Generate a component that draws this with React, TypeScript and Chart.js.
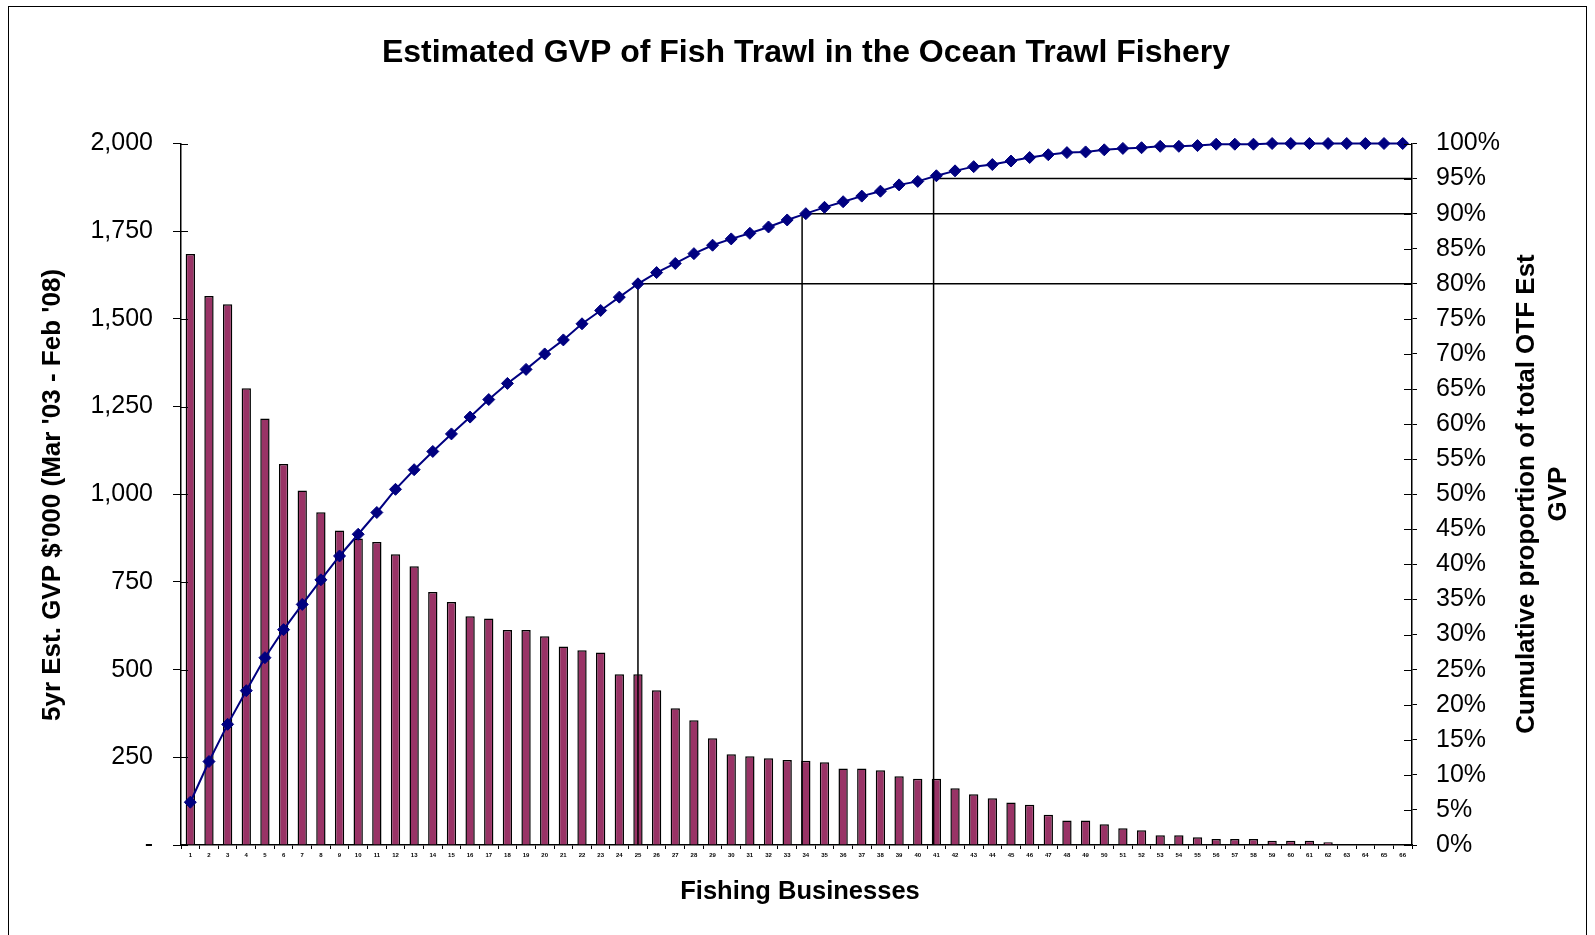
import React, { useEffect, useRef } from 'react';
import { Chart, registerables } from 'chart.js';

Chart.register(...registerables);

const FONT = "'Liberation Sans', Arial, Helvetica, sans-serif";

const chartTitle = 'Estimated GVP of Fish Trawl in the Ocean Trawl Fishery';
const xTitle = 'Fishing Businesses';
const leftTitle = "5yr Est. GVP $'000 (Mar '03 - Feb '08)";
const rightTitle = ['Cumulative proportion of total OTF Est', 'GVP'];

const businesses = [
  '1', '2', '3', '4', '5', '6', '7', '8', '9', '10',
  '11', '12', '13', '14', '15', '16', '17', '18', '19', '20',
  '21', '22', '23', '24', '25', '26', '27', '28', '29', '30',
  '31', '32', '33', '34', '35', '36', '37', '38', '39', '40',
  '41', '42', '43', '44', '45', '46', '47', '48', '49', '50',
  '51', '52', '53', '54', '55', '56', '57', '58', '59', '60',
  '61', '62', '63', '64', '65', '66',
];

const gvp = [
  1685, 1565, 1542, 1302, 1216, 1086, 1011, 949, 897, 874,
  864, 829, 795, 721, 693, 652, 646, 613, 613, 595,
  566, 555, 549, 487, 487, 441, 390, 356, 304, 259,
  253, 247, 242, 240, 236, 218, 218, 213, 196, 189,
  189, 162, 145, 133, 121, 115, 86, 70, 70, 59,
  48, 42, 28, 28, 22, 17, 17, 17, 12, 12,
  12, 8, 0, 0, 0, 0,
];

const cumulativePct = [
  6.1, 11.9, 17.2, 22.0, 26.7, 30.7, 34.3, 37.8, 41.2, 44.3,
  47.4, 50.7, 53.5, 56.1, 58.6, 61.0, 63.5, 65.8, 67.8, 70.0,
  72.0, 74.3, 76.2, 78.1, 80.0, 81.6, 82.9, 84.3, 85.5, 86.4,
  87.2, 88.1, 89.1, 90.0, 90.9, 91.7, 92.5, 93.2, 94.1, 94.6,
  95.4, 96.1, 96.7, 97.0, 97.5, 98.0, 98.4, 98.7, 98.8, 99.1,
  99.3, 99.4, 99.6, 99.6, 99.7, 99.9, 99.9, 99.9, 100, 100,
  100, 100, 100, 100, 100, 100,
];

// cut-off levels (%) and where their drop lines sit on the category axis (index units)
const thresholdPct = [80, 90, 95];
const thresholdPosition = [24, 32.8, 39.85];

const gvpStep = 250;
const pctStep = 5;

const overlayPlugin = {
  id: 'overlay',
  afterDatasetDraw(chart: any, args: any) {
    if (args.index !== 1) return;
    const { ctx, chartArea, scales } = chart;
    const xs = scales.x;
    const yp = scales.yPct;
    ctx.save();
    ctx.strokeStyle = '#000';
    ctx.lineWidth = 1.5;
    thresholdPct.forEach((p, k) => {
      const px = xs.getPixelForValue(thresholdPosition[k]);
      const py = yp.getPixelForValue(p);
      ctx.beginPath();
      ctx.moveTo(px, chartArea.bottom);
      ctx.lineTo(px, py);
      ctx.lineTo(chartArea.right, py);
      ctx.stroke();
    });
    ctx.restore();
  },
  afterDraw(chart: any) {
    const { ctx, chartArea, scales } = chart;
    ctx.save();
    // inner halves of the crossing tick marks
    ctx.strokeStyle = '#000';
    ctx.lineWidth = 1;
    scales.yGvp.ticks.forEach((t: any) => {
      const y = Math.round(scales.yGvp.getPixelForValue(t.value)) + 0.5;
      ctx.beginPath();
      ctx.moveTo(chartArea.left, y);
      ctx.lineTo(chartArea.left + 7, y);
      ctx.stroke();
    });
    scales.yPct.ticks.forEach((t: any) => {
      const y = Math.round(scales.yPct.getPixelForValue(t.value)) + 0.5;
      ctx.beginPath();
      ctx.moveTo(chartArea.right - 8, y);
      ctx.lineTo(chartArea.right, y);
      ctx.stroke();
    });

    ctx.fillStyle = '#000';
    ctx.textAlign = 'center';
    ctx.textBaseline = 'middle';
    ctx.font = `bold 32px ${FONT}`;
    ctx.fillText(chartTitle, 806, 53);

    ctx.font = `bold 25.5px ${FONT}`;
    ctx.fillText(xTitle, 800, 892);

    ctx.save();
    ctx.translate(53, 495);
    ctx.rotate(-Math.PI / 2);
    ctx.font = `bold 26px ${FONT}`;
    ctx.fillText(leftTitle, 0, 0);
    ctx.restore();

    ctx.font = `bold 26px ${FONT}`;
    ctx.save();
    ctx.translate(1527, 494);
    ctx.rotate(-Math.PI / 2);
    ctx.fillText(rightTitle[0], 0, 0);
    ctx.restore();
    ctx.save();
    ctx.translate(1559, 494);
    ctx.rotate(-Math.PI / 2);
    ctx.fillText(rightTitle[1], 0, 0);
    ctx.restore();

    ctx.restore();
  },
};

export default function App() {
  const ref = useRef<HTMLCanvasElement>(null);

  useEffect(() => {
    const canvas = ref.current;
    if (!canvas) return;
    const chart = new Chart(canvas, {
      type: 'bar',
      data: {
        labels: businesses,
        datasets: [
          {
            type: 'line',
            label: 'Cumulative proportion',
            data: cumulativePct,
            yAxisID: 'yPct',
            borderColor: '#000080',
            backgroundColor: '#000080',
            borderWidth: 2,
            pointStyle: 'rectRot',
            pointRadius: 6,
            pointBackgroundColor: '#000080',
            pointBorderColor: '#000080',
            pointBorderWidth: 1,
            tension: 0,
            clip: false,
          } as any,
          {
            type: 'bar',
            label: 'GVP',
            data: gvp,
            yAxisID: 'yGvp',
            backgroundColor: '#993366',
            borderColor: '#000000',
            borderWidth: 1.5,
            barPercentage: 0.5,
            categoryPercentage: 1,
          } as any,
        ],
      },
      options: {
        animation: false,
        responsive: false,
        devicePixelRatio: 1,
        layout: { padding: { top: 143.5, left: 0, right: 0, bottom: 0 } },
        plugins: {
          legend: { display: false },
          title: { display: false },
          tooltip: { enabled: false },
        },
        scales: {
          x: {
            type: 'category',
            offset: true,
            grid: {
              display: true,
              drawOnChartArea: false,
              drawTicks: true,
              tickLength: 4,
              color: '#000',
              lineWidth: 1,
              offset: true,
            },
            border: { display: true, color: '#000', width: 1.5 },
            ticks: {
              autoSkip: false,
              maxRotation: 0,
              minRotation: 0,
              color: '#000',
              padding: 3,
              font: { family: FONT, size: 6, weight: 'bold' },
            },
            afterFit: (s: any) => {
              s.height = 90;
            },
          },
          yGvp: {
            type: 'linear',
            position: 'left',
            min: 0,
            max: 2000,
            grid: {
              display: true,
              drawOnChartArea: false,
              drawTicks: true,
              tickLength: 8,
              color: '#000',
              lineWidth: 1,
            },
            border: { display: true, color: '#000', width: 1.5 },
            ticks: {
              stepSize: gvpStep,
              color: '#000',
              padding: 20,
              font: { family: FONT, size: 25 },
              callback: (v: any) => (Number(v) === 0 ? '-' : Number(v).toLocaleString('en-US')),
            },
            afterFit: (s: any) => {
              s.width = 181;
            },
          },
          yPct: {
            type: 'linear',
            position: 'right',
            min: 0,
            max: 100,
            grid: {
              display: true,
              drawOnChartArea: false,
              drawTicks: true,
              tickLength: 5,
              color: '#000',
              lineWidth: 1,
            },
            border: { display: true, color: '#000', width: 1.5 },
            ticks: {
              stepSize: pctStep,
              color: '#000',
              padding: 19,
              font: { family: FONT, size: 25 },
              callback: (v: any) => `${v}%`,
            },
            afterFit: (s: any) => {
              s.width = 183;
            },
          },
        } as any,
      },
      plugins: [overlayPlugin],
    });
    return () => chart.destroy();
  }, []);

  return (
    <>
      <div
        style={{
          position: 'fixed',
          left: 8,
          top: 6,
          width: 1579,
          height: 945,
          border: '1px solid #000',
          boxSizing: 'border-box',
        }}
      />
      <canvas
        ref={ref}
        width={1595}
        height={935}
        style={{ position: 'fixed', left: 0, top: 0, width: 1595, height: 935 }}
      />
    </>
  );
}
